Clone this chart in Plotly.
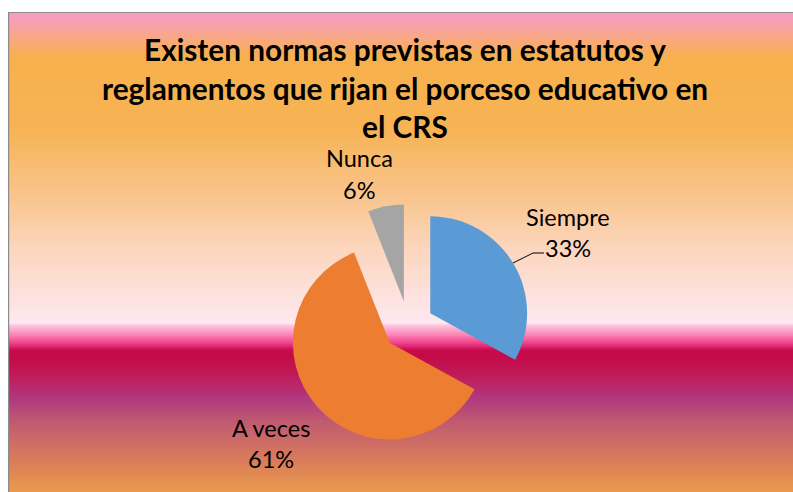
import plotly.graph_objects as go

# ---- data ----
categories = ["Siempre", "A veces", "Nunca"]
values = [33, 61, 6]
slice_colors = ["#5B9BD5", "#ED7D31", "#A5A5A5"]
title_lines = [
    "Existen normas previstas en estatutos y",
    "reglamentos que rijan el porceso educativo en",
    "el CRS",
]

W, H = 793, 492

# background gradient stops (pixel y, colour)
grad_stops = [
    (12, "#F99AC8"), (22, "#F9A0B4"), (35, "#F8A68E"), (58, "#F7B04C"),
    (130, "#F7B354"), (200, "#F9C690"), (250, "#FCD6BE"), (290, "#FDE0DA"),
    (323, "#FEE8F0"), (326, "#FCC0D8"), (330, "#FBA8CC"), (334, "#F98BB9"),
    (338, "#F66AA6"), (342, "#F04A91"), (346, "#E02C78"), (350, "#C80A4C"),
    (356, "#C30A48"), (375, "#C01A58"), (400, "#B13A80"), (420, "#BF5872"),
    (440, "#CC6A68"), (465, "#DC8058"), (492, "#E99B4D"),
]


def hex2rgb(h):
    h = h.lstrip("#")
    return tuple(int(h[i:i + 2], 16) for i in (0, 2, 4))


def color_at(y):
    for (y0, c0), (y1, c1) in zip(grad_stops[:-1], grad_stops[1:]):
        if y0 <= y <= y1:
            t = (y - y0) / (y1 - y0) if y1 > y0 else 0
            a, b = hex2rgb(c0), hex2rgb(c1)
            return "rgb(%d,%d,%d)" % tuple(round(a[i] + (b[i] - a[i]) * t) for i in range(3))
    return grad_stops[-1][1]


def px(x):
    return x / W


def py(y):
    return 1 - y / H


shapes = []
x_left = 8
step = 2
y = 12
while y < H:
    shapes.append(dict(type="rect", xref="paper", yref="paper", layer="below",
                       x0=px(x_left), x1=1.01, y0=py(y + step + 0.5), y1=py(y),
                       fillcolor=color_at(y + step / 2), line=dict(width=0)))
    y += step
# chart area border
shapes.append(dict(type="rect", xref="paper", yref="paper", layer="below",
                   x0=px(x_left + 0.6), x1=px(W + 6), y0=py(H + 6), y1=py(12.5),
                   fillcolor="rgba(0,0,0,0)", line=dict(color="#8C8C8C", width=1.2)))
# leader line for Siempre
shapes.append(dict(type="path", xref="paper", yref="paper",
                   path="M %f %f L %f %f L %f %f" % (px(513), py(263), px(533), py(253), px(544), py(253)),
                   line=dict(color="#000000", width=1)))

fig = go.Figure()
cx, cy, half = 408.6, 326, 122
fig.add_trace(go.Pie(
    labels=categories, values=values, sort=False, direction="clockwise", rotation=0,
    marker=dict(colors=slice_colors, line=dict(width=0)),
    pull=[0.26, 0.26, 0.26], textinfo="none", hoverinfo="label+percent",
    domain=dict(x=[px(cx - half), px(cx + half)], y=[py(cy + half), py(cy - half)]),
    showlegend=False,
))

total = sum(values)
label_pos = {"Siempre": (568, 217, 248), "A veces": (271, 428, 459), "Nunca": (359, 158, 190)}
annotations = []
for cat, v in zip(categories, values):
    x, y1, y2 = label_pos[cat]
    annotations.append(dict(text=cat, x=px(x), y=py(y1), xref="paper", yref="paper",
                            showarrow=False, xanchor="center", yanchor="middle",
                            font=dict(family="Lato", size=23.5, color="#000000")))
    annotations.append(dict(text="%d%%" % round(100 * v / total), x=px(x), y=py(y2),
                            xref="paper", yref="paper", showarrow=False,
                            xanchor="center", yanchor="middle",
                            font=dict(family="Lato", size=23.5, color="#000000")))
for i, line in enumerate(title_lines):
    annotations.append(dict(text="<b>%s</b>" % line, x=px(405), y=py(50 + i * 38.5),
                            xref="paper", yref="paper", showarrow=False,
                            xanchor="center", yanchor="middle",
                            font=dict(family="Lato", size=29.8, color="#000000")))

fig.update_layout(
    width=W, height=H, margin=dict(l=0, r=0, t=0, b=0),
    paper_bgcolor="#FFFFFF", plot_bgcolor="rgba(0,0,0,0)",
    shapes=shapes, annotations=annotations,
)
fig.write_html(
    "out.html",
    config={"displayModeBar": False},
    post_script="document.body.style.margin='0';document.body.style.overflow='hidden';",
)
